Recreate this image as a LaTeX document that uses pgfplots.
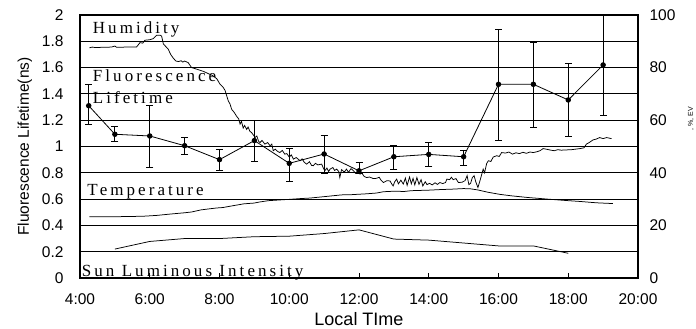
\documentclass[border=0pt]{standalone}
\usepackage{fontspec}
\setmainfont{Liberation Sans}
\newfontfamily\lblfont[LetterSpace=18]{Liberation Serif}
\usepackage{pgfplots}
\pgfplotsset{compat=1.18}
\pgfplotstableread{
t h
4.27 87.5
4.35 87.8
4.45 87.6
4.6 87.7
4.9 87.8
5.0 88.2
5.05 87.7
5.3 87.8
5.62 87.8
5.72 89.5
5.8 89.3
5.86 90.4
6.0 90.6
6.1 91.0
6.2 92.3
6.3 92.3
6.34 92.0
6.39 89.0
6.46 88.0
6.53 87.0
6.6 85.0
6.68 83.5
6.75 82.5
6.82 82.3
6.9 82.6
6.95 82.1
7.0 82.5
7.1 81.9
7.2 80.0
7.3 79.6
7.44 79.0
7.55 78.5
7.68 77.7
7.8 77.0
7.92 75.8
8.01 73.8
8.1 72.6
8.16 71.3
8.25 67.4
8.3 66.2
8.35 64.1
8.42 63.0
8.49 61.5
8.55 60.5
8.59 58.5
8.63 59.6
8.68 57.0
8.72 58.0
8.78 56.5
8.82 57.4
8.87 55.8
8.92 55.3
8.97 54.4
9.02 53.4
9.07 54.0
9.12 52.0
9.16 51.5
9.22 52.3
9.3 50.9
9.38 51.5
9.45 50.3
9.5 50.9
9.54 48.4
9.6 49.0
9.66 48.2
9.73 47.7
9.8 48.5
9.87 47.1
9.93 47.3
10.0 46.0
10.06 46.8
10.12 45.2
10.2 45.8
10.31 44.6
10.37 45.3
10.43 44.0
10.5 43.3
10.58 44.2
10.64 42.8
10.69 42.7
10.75 43.6
10.82 43.0
10.93 43.3
10.97 42.0
11.02 40.8
11.08 41.8
11.13 40.5
11.17 41.4
11.25 42.0
11.3 40.9
11.36 41.4
11.42 40.5
11.45 38.2
11.5 41.2
11.58 40.3
11.64 41.4
11.7 40.2
11.77 41.6
11.84 40.8
11.9 39.8
11.97 40.5
12.03 39.5
12.08 39.9
12.15 38.6
12.22 38.2
12.3 38.4
12.41 37.8
12.5 37.9
12.58 38.3
12.63 37.2
12.7 36.3
12.8 37.0
12.89 36.9
12.95 35.5
12.98 35.0
13.02 36.5
13.08 37.6
13.13 35.8
13.2 37.2
13.27 35.7
13.33 38.0
13.38 35.2
13.45 38.4
13.5 35.8
13.55 37.9
13.6 35.4
13.66 38.2
13.72 35.6
13.78 37.4
13.83 35.0
13.9 36.6
13.95 35.5
14.02 36.0
14.1 35.4
14.18 36.2
14.25 35.6
14.32 36.3
14.4 35.9
14.48 36.3
14.52 37.6
14.6 37.4
14.65 38.3
14.7 37.4
14.78 37.8
14.85 36.3
14.95 36.4
15.04 37.0
15.1 38.9
15.15 35.5
15.2 36.0
15.25 38.2
15.3 38.9
15.35 36.5
15.41 34.4
15.48 37.5
15.56 41.4
15.6 40.0
15.66 43.5
15.71 44.6
15.78 44.3
15.85 46.0
15.95 46.5
16.02 46.2
16.09 47.7
16.2 47.5
16.3 47.9
16.4 47.1
16.5 47.6
16.6 47.3
16.7 47.8
16.8 47.4
16.9 47.9
17.0 47.7
17.1 48.0
17.19 48.4
17.28 49.2
17.4 48.9
17.5 48.6
17.6 48.4
17.7 48.8
17.8 48.6
17.95 48.7
18.1 48.8
18.33 49.2
18.45 49.5
18.52 50.9
18.6 51.5
18.71 52.5
18.8 52.8
18.9 53.4
19.0 53.0
19.1 53.4
19.24 53.0
}\humidity
\pgfplotstableread{
t T
4.27 23.3
5.0 23.3
5.5 23.4
5.83 23.5
6.2 23.8
6.58 24.3
7.0 24.8
7.2 25.1
7.47 25.9
7.9 26.6
8.1 26.8
8.35 27.4
8.7 28.2
9.0 28.5
9.15 28.9
9.4 29.4
9.63 29.6
10.0 29.9
10.33 30.2
10.6 30.4
10.9 30.8
11.2 31.2
11.5 31.6
11.8 31.7
12.2 32.0
12.5 32.3
12.7 32.8
13.0 33.0
13.3 32.9
13.5 33.2
14.0 33.4
14.3 33.6
14.7 33.8
15.0 34.0
15.2 33.9
15.4 33.5
15.7 32.6
16.04 31.8
16.4 31.2
16.85 30.6
17.4 30.0
17.9 29.5
18.34 29.1
18.8 28.6
19.28 28.3
}\temperature
\pgfplotstableread{
t S
5 11.0
6 13.9
7 15.0
8 15.0
9 15.7
10 15.9
11 16.9
12 18.3
13 14.8
14 14.4
15 13.3
16 12.2
17 12.2
18 9.4
}\sun
\begin{document}
\begin{tikzpicture}[x=1pt,y=1pt]
\begin{axis}[
  scale only axis, width=558pt, height=263pt,
  at={(0,0)}, anchor=south west,
  xmin=4, xmax=20, ymin=0, ymax=2,
  xtick={4,6,8,10,12,14,16,18,20},
  xticklabels={4:00,6:00,8:00,10:00,12:00,14:00,16:00,18:00,20:00},
  ytick={0,0.2,0.4,0.6,0.8,1,1.2,1.4,1.6,1.8,2},
  tick pos=left, tick align=inside, major tick length=5pt,
  tick style={black, line width=0.8pt},
  ymajorgrids, grid style={black, line width=0.8pt},
  axis line style={black, line width=1.1pt},
  ticklabel style={font=\fontsize{15.5}{17}\selectfont},
  xticklabel style={yshift=-12pt},
  yticklabel style={xshift=-13pt},
  /pgf/number format/assume math mode=true,
  xlabel={Local TIme},
  xlabel style={font=\fontsize{18}{20}\selectfont, at={(axis description cs:0.5,-0.155)}, anchor=center},
  ylabel={Fluorescence Lifetime(ns)},
  ylabel style={font=\fontsize{15.5}{17}\selectfont, at={(axis description cs:-0.0986,0.5)}, anchor=center},
]
\addplot[black, line width=0.8pt, mark=*, mark size=2.3pt,
  error bars/.cd, y dir=both, y explicit,
  error bar style={line width=0.8pt},
  error mark=-,
  error mark options={rotate=90, mark size=3.5pt, line width=0.8pt}]
coordinates {
(4.25,1.31) += (0,0.16) -= (0,0.14)
(5,1.093) += (0,0.062) -= (0,0.058)
(6,1.08) += (0,0.23) -= (0,0.24)
(7,1.006) += (0,0.064) -= (0,0.066)
(8,0.90) += (0,0.08) -= (0,0.08)
(9,1.045) += (0,0.151) -= (0,0.155)
(10,0.872) += (0,0.114) -= (0,0.135)
(11,0.943) += (0,0.139) -= (0,0.147)
(12,0.815) += (0,0.062) -= (0,0.02)
(13,0.922) += (0,0.084) -= (0,0.096)
(14,0.94) += (0,0.09) -= (0,0.094)
(15,0.922) += (0,0.051) -= (0,0.063)
(16,1.473) += (0,0.421) -= (0,0.429)
(17,1.473) += (0,0.317) -= (0,0.33)
(18,1.354) += (0,0.279) -= (0,0.274)
(19,1.62) += (0,0.42) -= (0,0.38)
};
\end{axis}
\begin{axis}[
  scale only axis, width=558pt, height=263pt,
  at={(0,0)}, anchor=south west,
  xmin=4, xmax=20, ymin=0, ymax=100,
  hide x axis, axis y line*=right,
  ytick={0,20,40,60,80,100},
  tick align=inside, major tick length=5pt,
  tick style={black, line width=0.8pt},
  axis line style={black, line width=1.1pt},
  ticklabel style={font=\fontsize{15.5}{17}\selectfont},
  yticklabel style={xshift=8pt},
  /pgf/number format/assume math mode=true,
]
\addplot[black, line width=0.75pt] table[x=t, y=h] {\humidity};
\addplot[black, line width=0.75pt] table[x=t, y=T] {\temperature};
\addplot[black, line width=0.75pt] table[x=t, y=S] {\sun};
\end{axis}
\node[anchor=base west, inner sep=0pt, font=\lblfont\fontsize{17}{19}\selectfont] at (12.7,244) {Humidity};
\node[anchor=base west, inner sep=0pt, font=\lblfont\fontsize{17}{19}\selectfont] at (12.7,196.3) {Fluorescence};
\node[anchor=base west, inner sep=0pt, font=\lblfont\fontsize{17}{19}\selectfont] at (12.7,174.5) {Lifetime};
\node[anchor=base west, inner sep=0pt, font=\lblfont\fontsize{17}{19}\selectfont] at (7.3,82.3) {Temperature};
\node[anchor=base west, inner sep=0pt, font=\lblfont\fontsize{17}{19}\selectfont] at (1.7,1.5) {Sun Luminous Intensity};
\node[rotate=90, inner sep=0pt, font=\fontsize{7}{8}\selectfont] at (611,159) {, \%, EV};
\pgfresetboundingbox
\path[use as bounding box] (-80,-51) rectangle (616,278);
\end{tikzpicture}
\end{document}
